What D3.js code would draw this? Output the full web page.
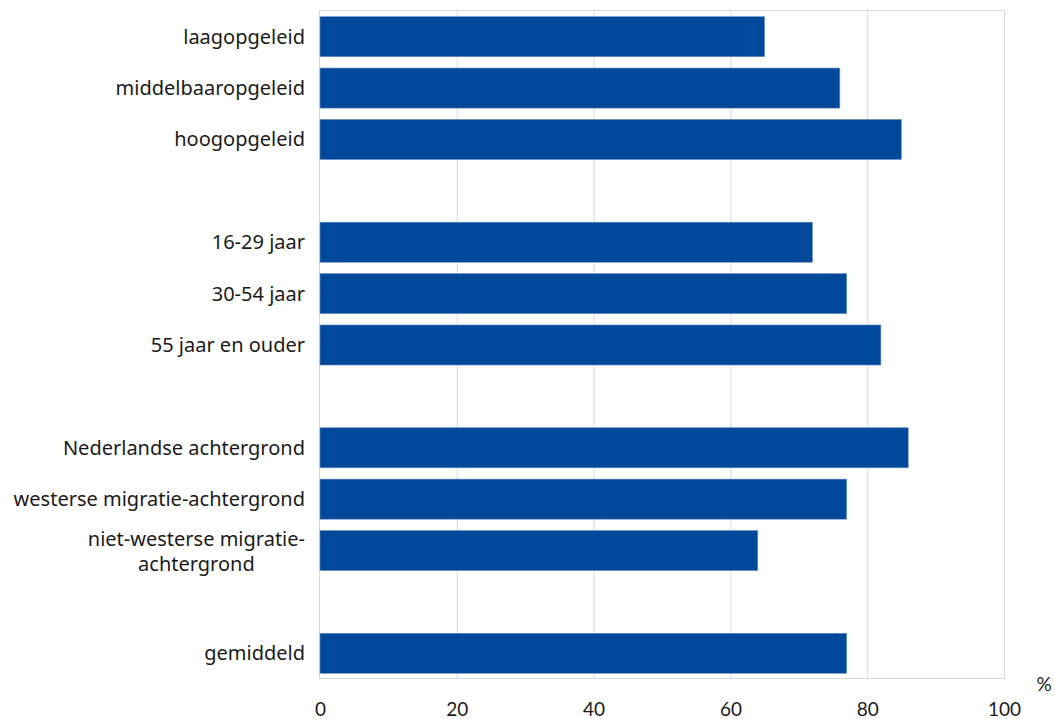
<!DOCTYPE html>
<html><head><meta charset="utf-8">
<script src="https://cdn.jsdelivr.net/npm/d3@7"></script>
<style>body{margin:0;background:#fff}svg{display:block}</style>
</head><body>
<svg id="c" width="1055" height="719"></svg>
<script>
const categories = ["laagopgeleid","middelbaaropgeleid","hoogopgeleid","",
  "16-29 jaar","30-54 jaar","55 jaar en ouder","",
  "Nederlandse achtergrond","westerse migratie-achtergrond","niet-westerse migratie-achtergrond","",
  "gemiddeld"];
const values = [65,76,85,null,72,77,82,null,86,77,64,null,77];
const labelLines = [["laagopgeleid"],["middelbaaropgeleid"],["hoogopgeleid"],[],
  ["16-29 jaar"],["30-54 jaar"],["55 jaar en ouder"],[],
  ["Nederlandse achtergrond"],["westerse migratie-achtergrond"],["niet-westerse migratie-","achtergrond"],[],
  ["gemiddeld"]];
const xTicks = [0,20,40,60,80,100];
const unitLabel = "%";

const svg = d3.select("#c");
const m = {l:320, r:1004, t:11, b:679};
const x = d3.scaleLinear().domain([0,100]).range([m.l, m.r]);
const ids = categories.map((d,i)=>i);
const y = d3.scaleBand().domain(ids).range([m.t, m.b]).paddingInner(0.22).paddingOuter(0.11);

// gridlines
svg.append("g").selectAll("line").data(xTicks.slice(1)).join("line")
  .attr("x1",d=>x(d)+0.5).attr("x2",d=>x(d)+0.5).attr("y1",m.t).attr("y2",m.b)
  .attr("stroke","#d9d9d9").attr("stroke-width",1);
// border
svg.append("rect").attr("x",m.l-0.5).attr("y",m.t-0.5).attr("width",m.r-m.l+1).attr("height",m.b-m.t)
  .attr("fill","none").attr("stroke","#d9d9d9").attr("stroke-width",1);

// bars
svg.append("g").selectAll("rect").data(ids.filter(i=>values[i]!=null)).join("rect")
  .attr("x",x(0)).attr("y",i=>y(i)).attr("width",i=>x(values[i])-x(0)).attr("height",y.bandwidth())
  .attr("fill","#004899").attr("stroke","#6f93c4").attr("stroke-width",0.6);

// category labels
const lab = svg.append("g").attr("font-family","'Noto Sans', 'Open Sans', sans-serif")
  .attr("font-size",20).attr("fill","#1a1a1a");
ids.forEach(i=>{
  const lines = labelLines[i];
  if(!lines.length) return;
  const cy = y(i)+y.bandwidth()/2;
  if(lines.length===1){
    lab.append("text").attr("x",305).attr("y",cy).attr("dy","0.35em").attr("text-anchor","end").text(lines[0]);
  } else {
    const t = lab.append("text").attr("x",305).attr("y",cy-12).attr("dy","0.35em").attr("text-anchor","end").text(lines[0]);
    const w = t.node().getComputedTextLength();
    lab.append("text").attr("x",305-w/2).attr("y",cy+13).attr("dy","0.35em").attr("text-anchor","middle").text(lines[1]);
  }
});

// x axis labels
const ax = svg.append("g").attr("transform",`translate(0,${m.b})`)
  .call(d3.axisBottom(x).tickValues(xTicks).tickSize(0).tickPadding(24).tickFormat(d3.format("d")));
ax.select(".domain").remove();
ax.selectAll("text").attr("font-family","Lato, 'Noto Sans', sans-serif").attr("font-size",19).attr("fill","#1a1a1a");

svg.append("text").attr("x",1044).attr("y",684).attr("dy","0.35em").attr("text-anchor","middle")
  .attr("font-family","Lato, 'Noto Sans', sans-serif").attr("font-size",19).attr("fill","#1a1a1a").text(unitLabel);
</script>
</body></html>
